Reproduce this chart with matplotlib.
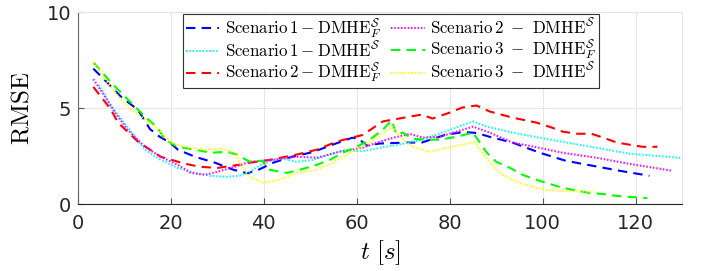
import matplotlib
matplotlib.use("Agg")
import matplotlib.pyplot as plt

plt.rcParams['mathtext.fontset'] = 'cm'
plt.rcParams['font.family'] = ['DejaVu Sans']

# Scenario 1 - DMHE_F^S
t_s1f = [3.3, 6, 9.2, 12.9, 15.5, 17.6, 19.8, 21.5, 25.2, 29.5, 33.5, 36.5, 39, 42, 46, 50.5,
         54.8, 59, 60.5, 62, 65, 70.7, 74, 79, 83, 85.8, 88.6, 93.5, 99.4, 105, 110.8, 116.6, 123]
y_s1f = [7.05, 6.4, 5.6, 4.9, 3.9, 3.5, 3.2, 2.83, 2.46, 2.15, 1.78, 1.6, 1.8, 2.15, 2.46, 2.7,
         3.09, 3.45, 3.4, 3.05, 3.15, 3.2, 3.2, 3.6, 3.75, 3.7, 3.5, 3.2, 2.67, 2.25, 1.99, 1.73, 1.47]

# Scenario 1 - DMHE^S
t_s1 = [4.5, 7.1, 10.7, 14.4, 17.8, 21.5, 25.2, 28.6, 32, 34.8, 37, 39.8, 43.4, 47, 50.5, 54.2,
        57, 61.3, 65, 69, 74, 79, 85, 88, 93.5, 97, 104, 111.6, 118.7, 130]
y_s1 = [6.2, 5.1, 4.0, 2.83, 2.3, 1.88, 1.62, 1.47, 1.41, 1.48, 1.68, 2.1, 2.4, 2.2, 2.3, 2.57,
        2.8, 2.75, 2.93, 3.09, 3.35, 3.77, 4.3, 4.03, 3.72, 3.56, 3.25, 2.93, 2.62, 2.4]

# Scenario 2 - DMHE_F^S
t_s2f = [3.3, 7.1, 8.6, 12.9, 17.8, 23, 26.2, 30, 34.8, 37, 41.3, 47, 51.4, 55.7, 61.3, 65.6,
         71.4, 74, 76.3, 80, 82.8, 85.8, 88.6, 93.5, 98.7, 102, 104.3, 107.5, 110.5, 113, 116,
         118.7, 121.5, 124.7]
y_s2f = [6.1, 4.92, 4.24, 3.25, 2.46, 2.1, 1.94, 1.88, 2.05, 2.15, 2.3, 2.57, 2.83, 3.25, 3.6, 4.3,
         4.55, 4.66, 4.45, 4.76, 5.03, 5.13, 4.82, 4.5, 4.24, 3.98, 3.77, 3.66, 3.66, 3.46, 3.2,
         3.09, 2.98, 2.98]

# Scenario 2 - DMHE^S
t_s2 = [3.3, 5.8, 8, 10.7, 14.4, 17.8, 21.5, 24.3, 27.3, 30, 33.8, 37, 42, 47, 51.4, 56.3, 61.3,
        65, 68.6, 71.4, 74.2, 77.8, 81.5, 85, 88.6, 93.5, 97, 104.3, 111.6, 118.7, 128]
y_s2 = [6.5, 5.6, 4.76, 3.87, 2.98, 2.46, 2.04, 1.62, 1.52, 1.68, 1.94, 2.2, 2.3, 2.46, 2.41, 2.72,
        2.93, 3.25, 3.5, 3.65, 3.46, 3.5, 3.77, 4.03, 3.72, 3.2, 3.04, 2.67, 2.41, 2.09, 1.73]

# Scenario 3 - DMHE_F^S
t_s3f = [3.3, 7.1, 10.7, 14.4, 17.2, 18.7, 21.5, 25.2, 28.6, 32.2, 34.2, 37, 39.6, 41.3, 45, 47.7,
         51.4, 54.2, 57, 60, 62.8, 65.6, 67.5, 68.6, 69.9, 72, 75, 77.8, 81.5, 85, 86.5, 88, 90,
         93, 95.7, 98.7, 100.8, 103.7, 106.5, 110, 113, 116, 118.7, 122.5]
y_s3f = [7.38, 6.33, 5.45, 4.56, 3.95, 3.35, 2.98, 2.83, 2.67, 2.72, 2.57, 2.2, 2.25, 1.78, 1.62, 1.78,
         2.04, 2.3, 2.67, 2.98, 3.35, 3.87, 4.35, 3.6, 3.72, 3.4, 3.35, 3.35, 3.5, 3.72, 3.2, 2.67, 2.2,
         1.88, 1.52, 1.26, 1.1, 0.89, 0.73, 0.58, 0.52, 0.42, 0.37, 0.31]

# Scenario 3 - DMHE^S
t_s3 = [3.3, 7.1, 9.2, 11.4, 14.4, 17.2, 20, 23.7, 27.3, 30.8, 33.8, 34.8, 37, 39.8, 43.4, 47,
        51.4, 54.8, 58.5, 62.8, 65, 67.7, 69.2, 72, 75.7, 79.4, 82.8, 85.4, 86.5, 88.6, 91.4, 95,
        98.7, 100.8, 104.3, 111]
y_s3 = [7.38, 6.1, 5.45, 4.92, 4.4, 3.87, 3.2, 2.93, 2.83, 2.88, 2.67, 2.15, 1.41, 1.1, 1.26, 1.62,
        1.78, 2.15, 2.67, 3.2, 3.6, 4.03, 3.5, 2.98, 2.72, 2.93, 3.09, 3.25, 2.83, 2.15, 1.52, 1.1,
        0.84, 0.73, 0.68, 0.63]

x_ticks = [0, 20, 40, 60, 80, 100, 120]
y_ticks = [0, 5, 10]

DASH = (4.5, 3)
DOT = (0.7, 0.9)

fig = plt.figure(figsize=(7.02, 2.71), dpi=100)
ax = fig.add_axes([0.1111, 0.2472, 0.8604, 0.7085])

series = [
    (t_s1f, y_s1f, '#0000ff', DASH, r'$\mathrm{Scenario\,1} - \mathrm{DMHE}_F^{\mathcal{S}}$'),
    (t_s1, y_s1, '#00ffff', DOT, r'$\mathrm{Scenario\,1} - \mathrm{DMHE}^{\mathcal{S}}$'),
    (t_s2f, y_s2f, '#ff0000', DASH, r'$\mathrm{Scenario\,2} - \mathrm{DMHE}_F^{\mathcal{S}}$'),
    (t_s2, y_s2, '#ff00ff', DOT, r'$\mathrm{Scenario\,2}\ -\ \mathrm{DMHE}^{\mathcal{S}}$'),
    (t_s3f, y_s3f, '#00ff00', DASH, r'$\mathrm{Scenario\,3}\ -\ \mathrm{DMHE}_F^{\mathcal{S}}$'),
    (t_s3, y_s3, '#ffff00', DOT, r'$\mathrm{Scenario\,3}\ -\ \mathrm{DMHE}^{\mathcal{S}}$'),
]
for t, y, c, dash, lab in series:
    ax.plot(t, y, color=c, lw=1.5, dashes=dash, label=lab)

ax.set_xlim(0, 130)
ax.set_ylim(0, 10)
ax.set_xticks(x_ticks)
ax.set_yticks(y_ticks)
ax.grid(True, color='#e6e6e6', lw=0.8)
ax.set_axisbelow(True)
ax.tick_params(direction='in', length=4, width=0.8, color='#555555', labelsize=14,
               labelcolor='#262626')
ax.tick_params(axis='x', pad=7)
ax.tick_params(axis='y', pad=5)
for s in ['top', 'right']:
    ax.spines[s].set_color('#e6e6e6')
ax.spines['left'].set_color('#666666')
ax.spines['bottom'].set_color('#262626')

ax.set_ylabel(r'$\mathrm{RMSE}$', fontsize=18, labelpad=9)
ax.set_xlabel(r'$t\ [s]$', fontsize=18, labelpad=4)

leg = ax.legend(ncol=2, loc='upper left', bbox_to_anchor=(183 / 702, 1 - 14 / 271),
                bbox_transform=fig.transFigure, borderaxespad=0, fontsize=12.2,
                fancybox=False, framealpha=1, edgecolor='#333333', handlelength=2.0,
                handletextpad=0.3, columnspacing=0.6, labelspacing=0.0, borderpad=0.15)
leg.get_frame().set_linewidth(0.8)

fig.savefig('out.png', dpi=100)
